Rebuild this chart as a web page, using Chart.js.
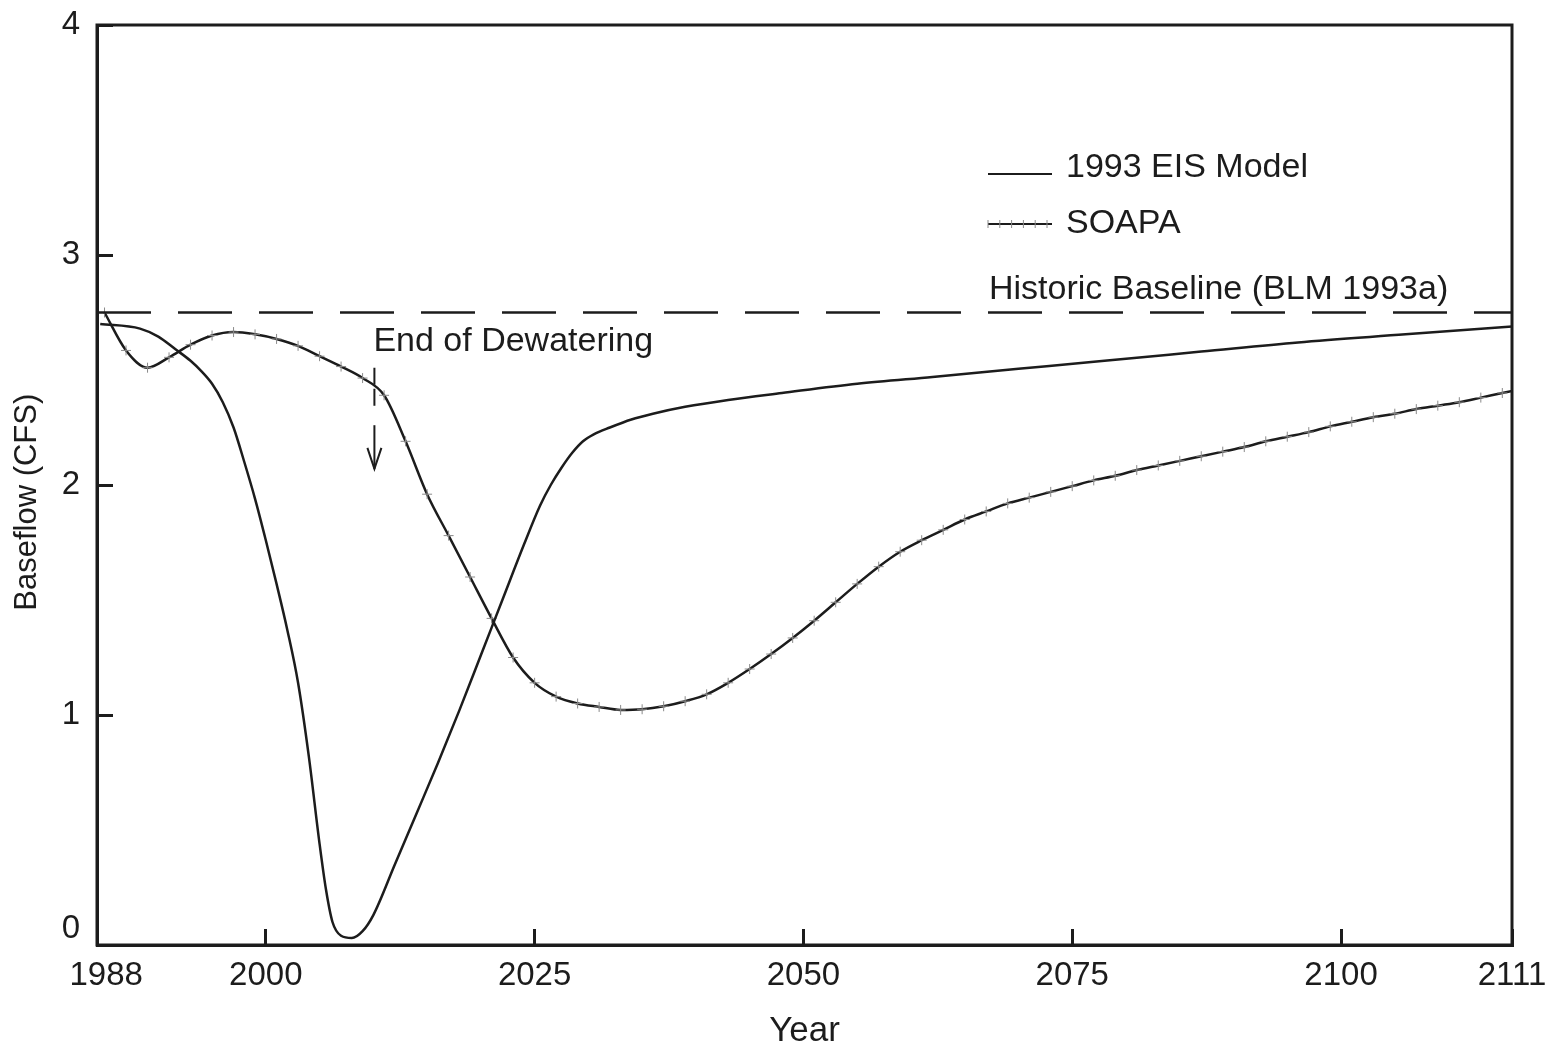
<!DOCTYPE html>
<html>
<head>
<meta charset="utf-8">
<script src="https://cdn.jsdelivr.net/npm/chart.js@4.4.1/dist/chart.umd.min.js"></script>
<style>
  html, body { margin: 0; padding: 0; background: #fff; }
</style>
</head>
<body>
<canvas id="chart" width="1550" height="1045"></canvas>
<script>
// ---- values ----
const eisYears = [1984.6, 1988.3, 1990.0, 1991.6, 1993.0, 1994.0, 1995.0, 1996.0, 1997.0, 1998.0,
                  1999.0, 2000.0, 2001.0, 2002.0, 2003.0, 2004.0, 2005.0, 2005.6, 2006.2, 2007.0,
                  2008.0, 2009.0, 2010.0, 2012.0, 2014.0, 2016.0, 2018.0, 2020.0, 2022.0, 2024.0,
                  2025.5, 2026.5, 2027.5, 2028.5, 2029.5, 2030.5, 2032.0, 2034.0, 2036.0, 2039.0,
                  2043.0, 2048.0, 2055.0, 2062.0, 2070.0, 2078.0, 2087.0, 2096.0, 2106.0, 2116.0];
const eisFlow = [2.70, 2.68, 2.645, 2.59, 2.54, 2.495, 2.44, 2.36, 2.25, 2.10,
                 1.94, 1.76, 1.57, 1.37, 1.14, 0.82, 0.44, 0.24, 0.10, 0.04,
                 0.03, 0.06, 0.13, 0.35, 0.57, 0.79, 1.02, 1.26, 1.50, 1.74,
                 1.91, 2.00, 2.075, 2.14, 2.19, 2.22, 2.25, 2.285, 2.31, 2.34,
                 2.37, 2.40, 2.44, 2.47, 2.505, 2.54, 2.58, 2.62, 2.655, 2.69];

const soapaYears = [1985, 1987, 1989, 1991, 1993, 1995, 1997, 1999, 2001, 2003,
                    2005, 2007, 2009, 2011, 2013, 2015, 2017, 2019, 2021, 2023,
                    2025, 2027, 2029, 2031, 2033, 2035, 2037, 2039, 2041, 2043,
                    2045, 2047, 2049, 2051, 2053, 2055, 2057, 2059, 2061, 2063,
                    2065, 2067, 2069, 2071, 2073, 2075, 2077, 2079, 2081, 2083,
                    2085, 2087, 2089, 2091, 2093, 2095, 2097, 2099, 2101, 2103,
                    2105, 2107, 2109, 2111, 2113, 2115, 2117];
const soapaFlow = [2.75, 2.585, 2.51, 2.555, 2.61, 2.65, 2.665, 2.655, 2.635, 2.605,
                   2.56, 2.515, 2.465, 2.39, 2.19, 1.96, 1.78, 1.60, 1.42, 1.25,
                   1.14, 1.08, 1.05, 1.035, 1.022, 1.025, 1.038, 1.06, 1.09, 1.14,
                   1.20, 1.265, 1.335, 1.41, 1.49, 1.57, 1.645, 1.71, 1.76, 1.805,
                   1.85, 1.885, 1.92, 1.945, 1.97, 1.995, 2.02, 2.04, 2.065, 2.085,
                   2.105, 2.125, 2.145, 2.165, 2.19, 2.21, 2.23, 2.255, 2.275, 2.295,
                   2.31, 2.33, 2.345, 2.36, 2.38, 2.40, 2.42];

const historicBaseline = 2.75;
const dewateringEndYear = 2010.1;

const xMin = 1984.3, xMax = 2115.9;
const xTickValues = [xMin, 2000, 2025, 2050, 2075, 2100, xMax];
const xTickLabels = ["  1988", "2000", "2025", "2050", "2075", "2100", "2111"];
const yTickValues = [0, 1, 2, 3, 4];

const INK = "#1c1c1c";
const FONT = "'Liberation Sans', Arial, sans-serif";

const toPoints = (xs, ys) => xs.map((v, i) => ({ x: v, y: ys[i] }));

// frame, legend and annotations
const decorations = {
    id: "decorations",
    afterDatasetsDraw(chart) {
        const { ctx, chartArea: a, scales: { x, y } } = chart;
        ctx.save();

        // box round the plot
        ctx.lineWidth = 3;
        ctx.strokeStyle = INK;
        ctx.strokeRect(a.left, a.top, a.right - a.left, a.bottom - a.top);

        ctx.fillStyle = INK;
        ctx.font = "34px " + FONT;
        ctx.textBaseline = "middle";
        ctx.textAlign = "left";

        // legend
        const ds = chart.data.datasets;
        const lx = 988, lw = 64;
        let ly = 174;
        ctx.lineWidth = 2;
        ctx.beginPath(); ctx.moveTo(lx, ly); ctx.lineTo(lx + lw, ly); ctx.stroke();
        ctx.fillText(ds[1].label, lx + 78, ly - 6);
        ly = 224;
        ctx.beginPath(); ctx.moveTo(lx, ly); ctx.lineTo(lx + lw, ly); ctx.stroke();
        ctx.strokeStyle = "#8a8a8a";
        ctx.lineWidth = 1;
        for (let k = 0; k < 6; k++) {
            const px = lx + k * 11.8;
            ctx.beginPath(); ctx.moveTo(px, ly - 4); ctx.lineTo(px, ly + 4); ctx.stroke();
        }
        ctx.fillText(ds[2].label, lx + 78, ly);

        // baseline label
        const by = y.getPixelForValue(historicBaseline);
        ctx.fillText(ds[0].label, 989, by - 23);

        // end of dewatering
        const ax = x.getPixelForValue(dewateringEndYear);
        ctx.fillText("End of Dewatering", ax - 1, 342);
        const yA = y.getPixelForValue(2.51), yB = y.getPixelForValue(2.34),
              yC = y.getPixelForValue(2.26), yTip = y.getPixelForValue(2.07);
        ctx.strokeStyle = INK;
        ctx.lineWidth = 2;
        ctx.setLineDash([17, 4]);
        ctx.beginPath(); ctx.moveTo(ax, yA); ctx.lineTo(ax, yB); ctx.stroke();
        ctx.setLineDash([]);
        ctx.beginPath(); ctx.moveTo(ax, yC); ctx.lineTo(ax, yTip); ctx.stroke();
        ctx.beginPath();
        ctx.moveTo(ax - 7, yTip - 21); ctx.lineTo(ax, yTip); ctx.lineTo(ax + 7, yTip - 21);
        ctx.stroke();

        ctx.restore();
    }
};

new Chart(document.getElementById("chart"), {
    type: "line",
    data: {
        datasets: [
            {
                label: "Historic Baseline (BLM 1993a)",
                data: toPoints([xMin, xMax], [historicBaseline, historicBaseline]),
                borderColor: INK,
                borderWidth: 2.5,
                borderDash: [54, 27],
                pointRadius: 0,
                tension: 0
            },
            {
                label: "1993 EIS Model",
                data: toPoints(eisYears, eisFlow),
                borderColor: INK,
                borderWidth: 2.5,
                pointRadius: 0,
                cubicInterpolationMode: "monotone"
            },
            {
                label: "SOAPA",
                data: toPoints(soapaYears, soapaFlow),
                borderColor: INK,
                borderWidth: 2.5,
                pointStyle: "cross",
                pointRadius: 5,
                pointBorderWidth: 1,
                pointBorderColor: "#8a8a8a",
                pointBackgroundColor: "#8a8a8a",
                cubicInterpolationMode: "monotone"
            }
        ]
    },
    options: {
        responsive: false,
        animation: false,
        layout: { padding: { top: 25, right: 38, left: 0, bottom: 0 } },
        plugins: { legend: { display: false }, tooltip: { enabled: false } },
        scales: {
            x: {
                type: "linear",
                min: xMin,
                max: xMax,
                afterBuildTicks: s => { s.ticks = xTickValues.map(v => ({ value: v })); },
                afterFit: s => { s.height = 100; s.paddingLeft = 0; s.paddingRight = 0; },
                grid: { drawOnChartArea: false, tickLength: -16, tickWidth: 3, tickColor: INK },
                border: { display: true, width: 3, color: INK },
                ticks: {
                    autoSkip: false,
                    maxRotation: 0,
                    padding: 27,
                    color: INK,
                    font: { family: FONT, size: 33 },
                    callback: (v, i) => xTickLabels[i]
                },
                title: {
                    display: true,
                    text: "Year",
                    color: INK,
                    font: { family: FONT, size: 35, lineHeight: 1 },
                    padding: { top: 0, bottom: -4 }
                }
            },
            y: {
                min: 0,
                max: 4,
                afterBuildTicks: s => { s.ticks = yTickValues.map(v => ({ value: v })); },
                afterFit: s => { s.width = 97; s.paddingTop = 0; s.paddingBottom = 0; },
                grid: { drawOnChartArea: false, tickLength: -16, tickWidth: 3, tickColor: INK },
                border: { display: true, width: 3, color: INK },
                ticks: {
                    padding: 33,
                    color: INK,
                    font: { family: FONT, size: 33, lineHeight: 1 },
                    callback: v => (v === 0 ? ["0", ""] : String(v))
                },
                title: {
                    display: true,
                    text: "Baseflow (CFS)    ",
                    color: INK,
                    font: { family: FONT, size: 31, lineHeight: 1 },
                    padding: { top: 12, bottom: 0 }
                }
            }
        }
    },
    plugins: [decorations]
});
</script>
</body>
</html>
